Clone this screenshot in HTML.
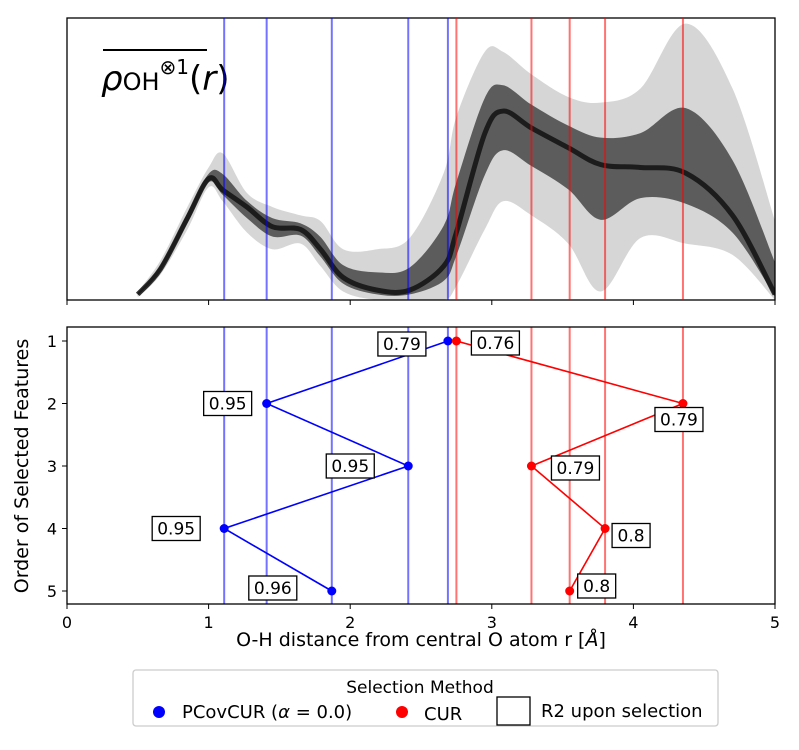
<!DOCTYPE html>
<html><head><meta charset="utf-8"><style>
body{margin:0;background:#fff;width:799px;height:745px;overflow:hidden;font-family:"Liberation Sans","DejaVu Sans",sans-serif}
svg text{font-family:"DejaVu Sans","Liberation Sans",sans-serif}
</style></head><body>
<svg id="chart" width="799" height="745" viewBox="0 0 799 745" xmlns="http://www.w3.org/2000/svg">
<defs><clipPath id="tclip"><rect x="67" y="18" width="708" height="282"/></clipPath></defs>
<g id="top" clip-path="url(#tclip)"></g>
<g id="topaxes"></g>
<g id="bottom"></g>
<g id="legend"></g>
</svg>
<script>
const pcovR = [2.69, 1.41, 2.41, 1.11, 1.87];
const pcovScore = ["0.79", "0.95", "0.95", "0.95", "0.96"];
const curR = [2.75, 4.35, 3.28, 3.80, 3.55];
const curScore = ["0.76", "0.79", "0.79", "0.8", "0.8"];
const xTicks = [0, 1, 2, 3, 4, 5];
const yTicks = [1, 2, 3, 4, 5];
const densR = [0.5,0.66,0.85,1.0,1.1,1.27,1.45,1.65,1.79,1.95,2.19,2.42,2.66,2.75,2.95,3.08,3.28,3.54,3.77,4.05,4.37,4.7,5.0];
const densMid = [0.02,0.11,0.29,0.43,0.39,0.33,0.26,0.25,0.18,0.08,0.035,0.035,0.12,0.24,0.59,0.67,0.61,0.54,0.48,0.47,0.45,0.3,0.02];
const densHi = [0.03,0.14,0.33,0.47,0.52,0.38,0.33,0.30,0.28,0.18,0.18,0.22,0.45,0.65,0.88,0.88,0.80,0.72,0.70,0.75,0.98,0.75,0.28];
const densLo = [0.01,0.09,0.25,0.40,0.35,0.24,0.18,0.20,0.12,0.03,0.0,0.0,0.0,0.05,0.25,0.35,0.30,0.2,0.03,0.22,0.2,0.16,0.0];

const NS="http://www.w3.org/2000/svg";
const X0=67, XW=708;
const sx=r=>X0+r/5*XW;
const TT=18, TB=300;
const ty=v=>TB-v*(TB-TT);
const BT=327, BB=604;
const by=k=>341+(k-1)*62.5;
function el(t,a,p){const e=document.createElementNS(NS,t);for(const k in a)e.setAttribute(k,a[k]);p.appendChild(e);return e;}
const gTop=document.getElementById('top'),gAx=document.getElementById('topaxes'),gBot=document.getElementById('bottom'),gLeg=document.getElementById('legend');

function line(arr){return arr.map((v,i)=>[sx(densR[i]),ty(v)]);}
function smooth(pts){let d="M"+pts[0][0]+","+pts[0][1];for(let i=0;i<pts.length-1;i++){const p0=pts[i-1]||pts[i],p1=pts[i],p2=pts[i+1],p3=pts[i+2]||p2;
d+=" C"+(p1[0]+(p2[0]-p0[0])/6)+","+(p1[1]+(p2[1]-p0[1])/6)+" "+(p2[0]-(p3[0]-p1[0])/6)+","+(p2[1]-(p3[1]-p1[1])/6)+" "+p2[0]+","+p2[1];}return d;}
function band(a,b,col,op,name){
  const up=smooth(a), dn=smooth(b.slice().reverse()).replace(/^M/,"L");
  const p=el('path',{d:up+" "+dn+" Z",fill:col,"fill-opacity":op},gTop);
  
  
}
band(line(densHi),line(densLo),"#777",0.3,'density-outer-band');
const hiM=densHi.map((v,i)=>(v+1.3*densMid[i])/2.3), loM=densLo.map((v,i)=>(v+1.3*densMid[i])/2.3);
band(line(hiM),line(loM),"#333",0.75,'density-inner-band');
const c=el('path',{d:smooth(line(densMid)),fill:"none",stroke:"#111","stroke-width":5,"stroke-opacity":0.85},gTop);



function vlines(rs,col,name){rs.forEach(r=>{[[TT,TB],[BT,BB]].forEach(([a,b])=>{const l=el('line',{x1:sx(r),x2:sx(r),y1:a,y2:b,stroke:col,"stroke-width":2,"stroke-opacity":0.55},gBot);

});});}
vlines(pcovR,"#0000ff",'pcovcur-feature-line');
vlines(curR,"#ff0000",'cur-feature-line');

el('rect',{x:X0,y:TT,width:XW,height:TB-TT,fill:"none",stroke:"#000","stroke-width":1.3},gAx);
el('rect',{x:X0,y:BT,width:XW,height:BB-BT,fill:"none",stroke:"#000","stroke-width":1.3},gBot);
el('line',{x1:103,x2:207,y1:50,y2:50,stroke:"#000","stroke-width":2},gAx);
const lab=el('text',{x:101,y:90,"font-size":34},gAx);


lab.innerHTML='<tspan font-style="italic">ρ</tspan><tspan font-size="24">OH</tspan><tspan font-size="20" dy="-16">⊗1</tspan><tspan dy="16">(</tspan><tspan font-style="italic">r</tspan>)';

xTicks.forEach(t=>{
 el('line',{x1:sx(t),x2:sx(t),y1:TB,y2:TB+5,stroke:"#000"},gAx);
 el('line',{x1:sx(t),x2:sx(t),y1:BB,y2:BB+5,stroke:"#000"},gBot);
 const tx=el('text',{x:sx(t),y:BB+24,"font-size":16,"text-anchor":"middle"},gBot);tx.textContent=t;
 
 
});
yTicks.forEach(t=>{
 el('line',{x1:X0-5,x2:X0,y1:by(t),y2:by(t),stroke:"#000"},gBot);
 const tx=el('text',{x:X0-10,y:by(t)+6,"font-size":16,"text-anchor":"end"},gBot);tx.textContent=t;
 
 
});
const xt=el('text',{x:421,y:646,"font-size":19,"text-anchor":"middle"},gBot);


xt.innerHTML='O-H distance from central O atom  r [<tspan font-style="italic">Å</tspan>]';
const yt=el('text',{x:0,y:0,"font-size":19,"text-anchor":"middle",transform:"translate(28,466) rotate(-90)"},gBot);
yt.textContent='Order of Selected Features';



const pcovOff=[[-46,3],[-39,0],[-58,0],[-48,0],[-59,-3]];
const curOff=[[39,2],[-4,16],[44,2],[26,7],[27,-5]];
function series(rs,sc,col,off,name){
 const pts=rs.map((r,i)=>sx(r)+","+by(i+1)).join(" ");
 const pl=el('polyline',{points:pts,fill:"none",stroke:col,"stroke-width":1.6},gBot);
 
 
 rs.forEach((r,i)=>{
  const d=el('circle',{cx:sx(r),cy:by(i+1),r:4.5,fill:col},gBot);
  
  
  const cx=sx(r)+off[i][0], cy=by(i+1)+off[i][1];
  const w=sc[i].length>3?48:38;
  el('rect',{x:cx-w/2,y:cy-12,width:w,height:24,fill:"#fff",stroke:"#000","stroke-width":1.3},gBot);
  const t=el('text',{x:cx,y:cy+6,"font-size":17,"text-anchor":"middle"},gBot);t.textContent=sc[i];
  
  
 });
}
series(pcovR,pcovScore,"#0000ff",pcovOff,'pcovcur');
series(curR,curScore,"#ff0000",curOff,'cur');

const lb=el('rect',{x:133,y:670,width:585,height:56,rx:3,fill:"#fff",stroke:"#ccc","stroke-width":1.3},gLeg);


const lt=el('text',{x:420,y:693,"font-size":17,"text-anchor":"middle"},gLeg);lt.textContent='Selection Method';


el('circle',{cx:159,cy:712,r:6,fill:"#0000ff"},gLeg);
const e1=el('text',{x:182,y:718,"font-size":18},gLeg);e1.innerHTML='PCovCUR (<tspan font-style="italic">α</tspan> = 0.0)';


el('circle',{cx:402,cy:712,r:6,fill:"#ff0000"},gLeg);
const e2=el('text',{x:424,y:720,"font-size":18},gLeg);e2.textContent='CUR';


el('rect',{x:497,y:697,width:33,height:28,fill:"#fff",stroke:"#000","stroke-width":1.3},gLeg);
const e3=el('text',{x:541,y:717,"font-size":18},gLeg);e3.textContent='R2 upon selection';


</script>
</body></html>
